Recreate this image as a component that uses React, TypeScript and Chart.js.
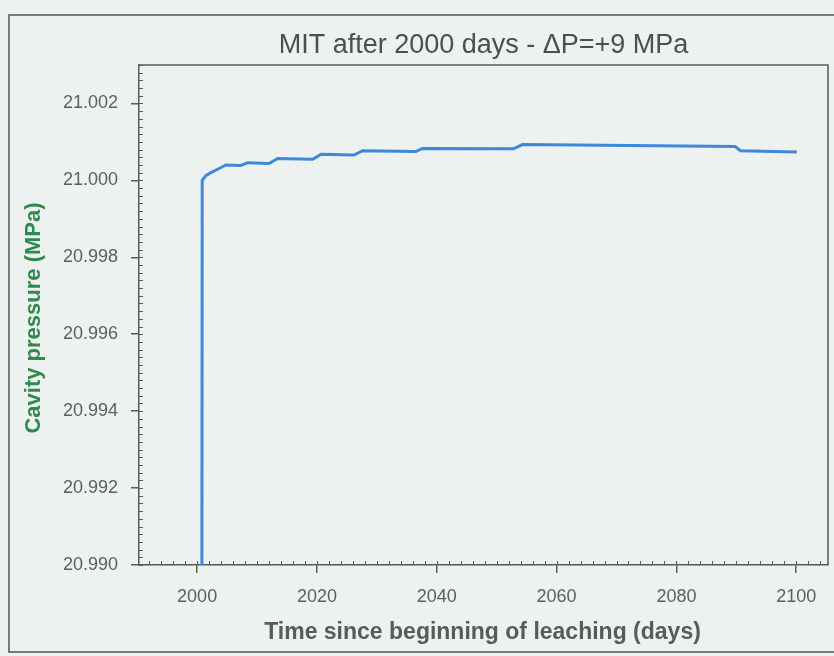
import React, { useEffect, useRef } from "react";
import { Chart, registerables } from "chart.js";

Chart.register(...registerables);

// Simulated cavity pressure during the mechanical integrity test
const timeDays = [
  2000.8, 2000.85, 2001.5, 2002.3, 2003.45, 2004.8, 2007.3, 2008.45, 2012.0, 2013.45,
  2019.3, 2020.7, 2026.2, 2027.6, 2036.5, 2037.6, 2052.8, 2054.3, 2089.8, 2090.7, 2100.1,
];
const pressureMPa = [
  20.99, 21.0, 21.00013, 21.0002, 21.00029, 21.0004, 21.00039, 21.00046, 21.00044, 21.00057,
  21.00055, 21.00068, 21.00066, 21.00077, 21.00075, 21.00083, 21.00082, 21.00093, 21.00088,
  21.00077, 21.00074,
];

const xTickValues = [2000, 2020, 2040, 2060, 2080, 2100];
const yTickValues = [20.99, 20.992, 20.994, 20.996, 20.998, 21.0, 21.002];
const xMinorStep = 2;
const yMinorStep = 0.0002;

const titleText = "MIT after 2000 days - \u0394P=+9 MPa";
const xTitleText = "Time since beginning of leaching (days)";
const yTitleText = "Cavity pressure (MPa)";

const BG = "#edf1f0";
const INK = "#555a5a";
const FONT = "'Liberation Sans', Arial, sans-serif";

const framePlugin = {
  id: "frameAndTitles",
  beforeDraw(chart: any) {
    const { ctx, width, height } = chart;
    ctx.save();
    ctx.fillStyle = BG;
    ctx.fillRect(0, 0, width, height);
    ctx.restore();
  },
  afterDraw(chart: any) {
    const { ctx, chartArea } = chart;
    const { left, right, top, bottom } = chartArea;
    const xs = chart.scales.x;
    const ys = chart.scales.y;
    ctx.save();
    // outer frame
    ctx.strokeStyle = "#4e5454";
    ctx.lineWidth = 1.5;
    ctx.beginPath();
    ctx.moveTo(chart.width + 2, 15);
    ctx.lineTo(9, 15);
    ctx.lineTo(9, 652);
    ctx.lineTo(chart.width + 2, 652);
    ctx.stroke();

    // plot box top and right edges
    ctx.strokeStyle = INK;
    ctx.lineWidth = 1.5;
    ctx.beginPath();
    ctx.moveTo(left, top);
    ctx.lineTo(right, top);
    ctx.lineTo(right, bottom);
    ctx.stroke();

    // minor ticks pointing into the plot
    ctx.lineWidth = 1;
    ctx.beginPath();
    const x0 = Math.ceil(xs.min / xMinorStep) * xMinorStep;
    for (let v = x0; v <= xs.max; v += xMinorStep) {
      const px = Math.round(xs.getPixelForValue(v)) + 0.5;
      ctx.moveTo(px, bottom);
      ctx.lineTo(px, bottom - 4);
    }
    const yCount = Math.round((ys.max - ys.min) / yMinorStep);
    for (let i = 0; i <= yCount; i++) {
      const v = ys.min + i * yMinorStep;
      const py = Math.round(ys.getPixelForValue(v)) + 0.5;
      ctx.moveTo(left, py);
      ctx.lineTo(left + 4, py);
    }
    ctx.stroke();

    // titles
    ctx.fillStyle = "#4a4f4f";
    ctx.textAlign = "center";
    ctx.textBaseline = "middle";
    ctx.font = `27px ${FONT}`;
    ctx.fillText(titleText, (left + right) / 2, 46);

    ctx.font = `bold 23px ${FONT}`;
    ctx.fillStyle = "#565b5b";
    ctx.fillText(xTitleText, (left + right) / 2 - 1, 633);

    ctx.save();
    ctx.translate(34, (top + bottom) / 2 + 3);
    ctx.rotate(-Math.PI / 2);
    ctx.fillStyle = "#2f8a4c";
    ctx.font = `bold 22px ${FONT}`;
    ctx.fillText(yTitleText, 0, 0);
    ctx.restore();
    ctx.restore();
  },
};

export default function App() {
  const canvasRef = useRef<HTMLCanvasElement | null>(null);

  useEffect(() => {
    const canvas = canvasRef.current;
    if (!canvas) return;
    const chart = new Chart(canvas, {
      type: "line",
      data: {
        datasets: [
          {
            data: timeDays.map((t, i) => ({ x: t, y: pressureMPa[i] })),
            borderColor: "#3f88d8",
            borderWidth: 3,
            pointRadius: 0,
            tension: 0,
            fill: false,
            clip: 0,
          },
        ],
      },
      options: {
        animation: false,
        responsive: false,
        devicePixelRatio: 1,
        layout: { padding: { top: 65, right: 6, left: 0, bottom: 0 } },
        plugins: {
          legend: { display: false },
          title: { display: false },
          tooltip: { enabled: false },
        },
        scales: {
          x: {
            type: "linear",
            min: 1990.3,
            max: 2105.3,
            afterBuildTicks: (s: any) => {
              s.ticks = xTickValues.map((v) => ({ value: v }));
            },
            afterFit: (s: any) => {
              s.height = 91;
            },
            ticks: {
              color: "#5a5f5f",
              font: { family: FONT, size: 18 },
              padding: 13,
              maxRotation: 0,
              callback: (v: any) => String(v),
            },
            grid: {
              display: true,
              drawOnChartArea: false,
              drawTicks: true,
              tickLength: 8,
              color: INK,
              lineWidth: 1.5,
            },
            border: { display: true, color: INK, width: 1.5 },
          },
          y: {
            type: "linear",
            min: 20.99,
            max: 21.003,
            afterBuildTicks: (s: any) => {
              s.ticks = yTickValues.map((v) => ({ value: v }));
            },
            afterFit: (s: any) => {
              s.width = 139;
            },
            ticks: {
              color: "#5a5f5f",
              font: { family: FONT, size: 18 },
              padding: 13,
              callback: (v: any) => Number(v).toFixed(3),
            },
            grid: {
              display: true,
              drawOnChartArea: false,
              drawTicks: true,
              tickLength: 8,
              color: INK,
              lineWidth: 1.5,
            },
            border: { display: true, color: INK, width: 1.5 },
          },
        },
      },
      plugins: [framePlugin],
    });
    return () => chart.destroy();
  }, []);

  return (
    <div style={{ position: "fixed", left: 0, top: 0, width: 834, height: 656, background: BG }}>
      <canvas ref={canvasRef} width={834} height={656} style={{ display: "block" }} />
    </div>
  );
}
